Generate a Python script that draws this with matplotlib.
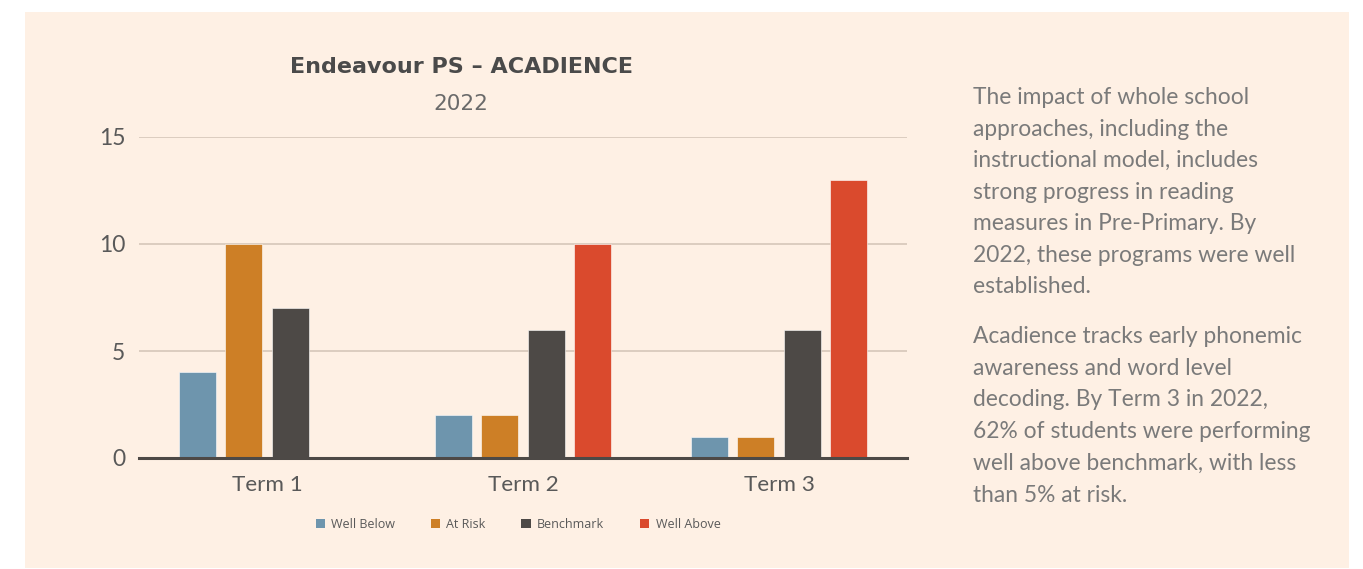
import numpy as np
import matplotlib
matplotlib.use("Agg")
import matplotlib.pyplot as plt
from matplotlib.patches import Rectangle, Patch

# data
terms = ["Term 1", "Term 2", "Term 3"]
series = ["Well Below", "At Risk", "Benchmark", "Well Above"]
well_below = [4, 2, 1]
at_risk = [10, 2, 1]
benchmark = [7, 6, 6]
well_above = [0, 10, 13]
colors = ["#6E95AD", "#CD7F26", "#4D4946", "#DA4A2D"]

title = "Endeavour PS \u2013 ACADIENCE"
subtitle = "2022"
para1 = ("The impact of whole school\napproaches, including the\ninstructional model, includes\n"
         "strong progress in reading\nmeasures in Pre-Primary. By\n2022, these programs were well\nestablished.")
para2 = ("Acadience tracks early phonemic\nawareness and word level\ndecoding. By Term 3 in 2022,\n"
         "62% of students were performing\nwell above benchmark, with less\nthan 5% at risk.")

bg = "#FEF0E4"
W, H = 1363, 569
fig = plt.figure(figsize=(W / 100, H / 100), dpi=100, facecolor="white")

# peach panel behind everything
fig.patches.append(Rectangle((25 / W, 1 - 568 / H), 1324 / W, 556 / H,
                             transform=fig.transFigure, facecolor=bg, edgecolor="none", zorder=-10))

ax = fig.add_axes([139 / W, 1 - 458 / H, 768 / W, 321 / H])
ax.set_facecolor("none")

x = np.arange(len(terms))
step = 0.181
width = 0.145
for i, (name, vals) in enumerate(zip(series, [well_below, at_risk, benchmark, well_above])):
    ax.bar(x + (i - 1.5) * step, vals, width, color=colors[i], label=name,
           edgecolor="#FFFFFF", linewidth=0.4, zorder=3)

ax.set_xlim(-0.5, 2.5)
ax.set_ylim(0, 15)
ax.set_yticks([0, 5, 10, 15])
ax.grid(axis="y", color="#D9CABD", linewidth=1.3, zorder=0)
ax.set_axisbelow(True)
for s in ["top", "right", "left"]:
    ax.spines[s].set_visible(False)
ax.spines["bottom"].set_color("#4D4946")
ax.spines["bottom"].set_linewidth(2.2)
ax.spines["bottom"].set_zorder(4)
ax.set_xticks(x)
ax.set_xticklabels(terms, fontsize=16.2, color="#595959", family="Lato")
ax.tick_params(axis="x", length=0, pad=12)
ax.tick_params(axis="y", length=0, pad=10, labelsize=16.5, labelcolor="#595959")
for lab in ax.get_yticklabels():
    lab.set_family("Lato")

fig.text(462 / W, 1 - 67 / H, title, ha="center", va="center", fontsize=16,
         fontweight="bold", color="#4A4A4A", family="DejaVu Sans")
fig.text(461 / W, 1 - 104 / H, subtitle, ha="center", va="center", fontsize=15.5,
         color="#6A6A6A", family="DejaVu Sans")

handles = [Patch(facecolor=c, edgecolor="none") for c in colors]
fig.legend(handles, series, loc="center", bbox_to_anchor=(518 / W, 1 - 524 / H), ncol=4,
           frameon=False, handlelength=0.75, handleheight=0.75,
           handletextpad=0.5, columnspacing=2.85, labelcolor="#595959",
           prop={"family": "Open Sans", "size": 9})

fig.text(973 / W, 1 - 87 / H, para1, ha="left", va="top", fontsize=16.4, color="#7A7A7A",
         family="Lato", linespacing=1.62)
fig.text(973 / W, 1 - 326 / H, para2, ha="left", va="top", fontsize=16.4, color="#7A7A7A",
         family="Lato", linespacing=1.63)

fig.savefig("out.png", dpi=100, facecolor="white")
